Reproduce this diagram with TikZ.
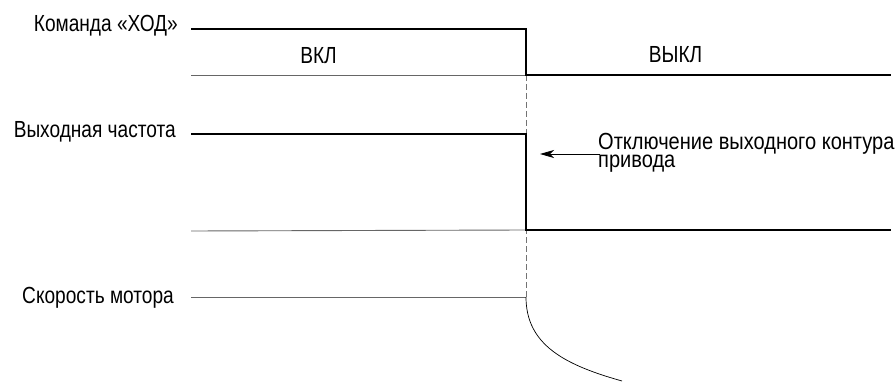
\documentclass[tikz,border=0pt]{standalone}
\usepackage{fontspec}
\usetikzlibrary{arrows.meta}
\setmainfont{Liberation Sans}[FakeStretch=0.82]
\newfontfamily\notefont{Liberation Sans}[FakeStretch=0.86]
\begin{document}
\begin{tikzpicture}[x=1pt,y=-1pt,
  lbl/.style={font=\fontsize{23.3}{26}\selectfont, inner sep=0pt},
  sig/.style={line width=2pt, black},
  base/.style={line width=0.9pt, black!60},
  guide/.style={line width=0.8pt, black!55, dash pattern=on 6pt off 3pt}]
\useasboundingbox (0,0) rectangle (896,390);
% labels
\node[lbl, anchor=base east] (cmd) at (178,32) {Команда «ХОД»};
\node[lbl, anchor=base east] (frq) at (176,138) {Выходная частота};
\node[lbl, anchor=base east] (spd) at (174,303) {Скорость мотора};
\node[lbl, anchor=base] (on) at (318.5,64) {ВКЛ};
\node[lbl, anchor=base] (off) at (675.5,63) {ВЫКЛ};
\node[lbl, anchor=north west, align=left, font=\notefont\fontsize{23.3}{18}\selectfont] (note) at (598,133) {Отключение выходного контура\\привода};
% coordinates
\coordinate (c0) at (191,29);
\coordinate (c1) at (526,29);
\coordinate (c2) at (526,75);
\coordinate (c3) at (891,75);
\coordinate (b0) at (191,75);
\coordinate (f0) at (191,134);
\coordinate (f1) at (526,134);
\coordinate (f2) at (526,230);
\coordinate (f3) at (891,230);
\coordinate (fb0) at (191,231);
\coordinate (s0) at (191,297);
\coordinate (s1) at (526,297);
\coordinate (s2) at (622,381);
\coordinate (a0) at (600,154);
\coordinate (a1) at (540,154);
% baselines
\draw[base] (b0) -- (c2);
\draw[base] (fb0) -- (f2);
\draw[base] (s0) -- (s1);
% guide
\draw[guide] (c2) -- (s1);
% signals
\draw[sig, line join=miter] (c0) -- (c1) -- (c2) -- (c3);
\draw[sig, line join=miter] (f0) -- (f1) -- (f2) -- (f3);
% speed curve
\draw[line width=0.7pt] (s1) .. controls (526,345) and (565,365) .. (s2);
% arrow
\draw[line width=0.8pt, -{Stealth[length=14pt,width=8pt,inset=4pt]}] (a0) -- (a1);
\end{tikzpicture}
\end{document}
